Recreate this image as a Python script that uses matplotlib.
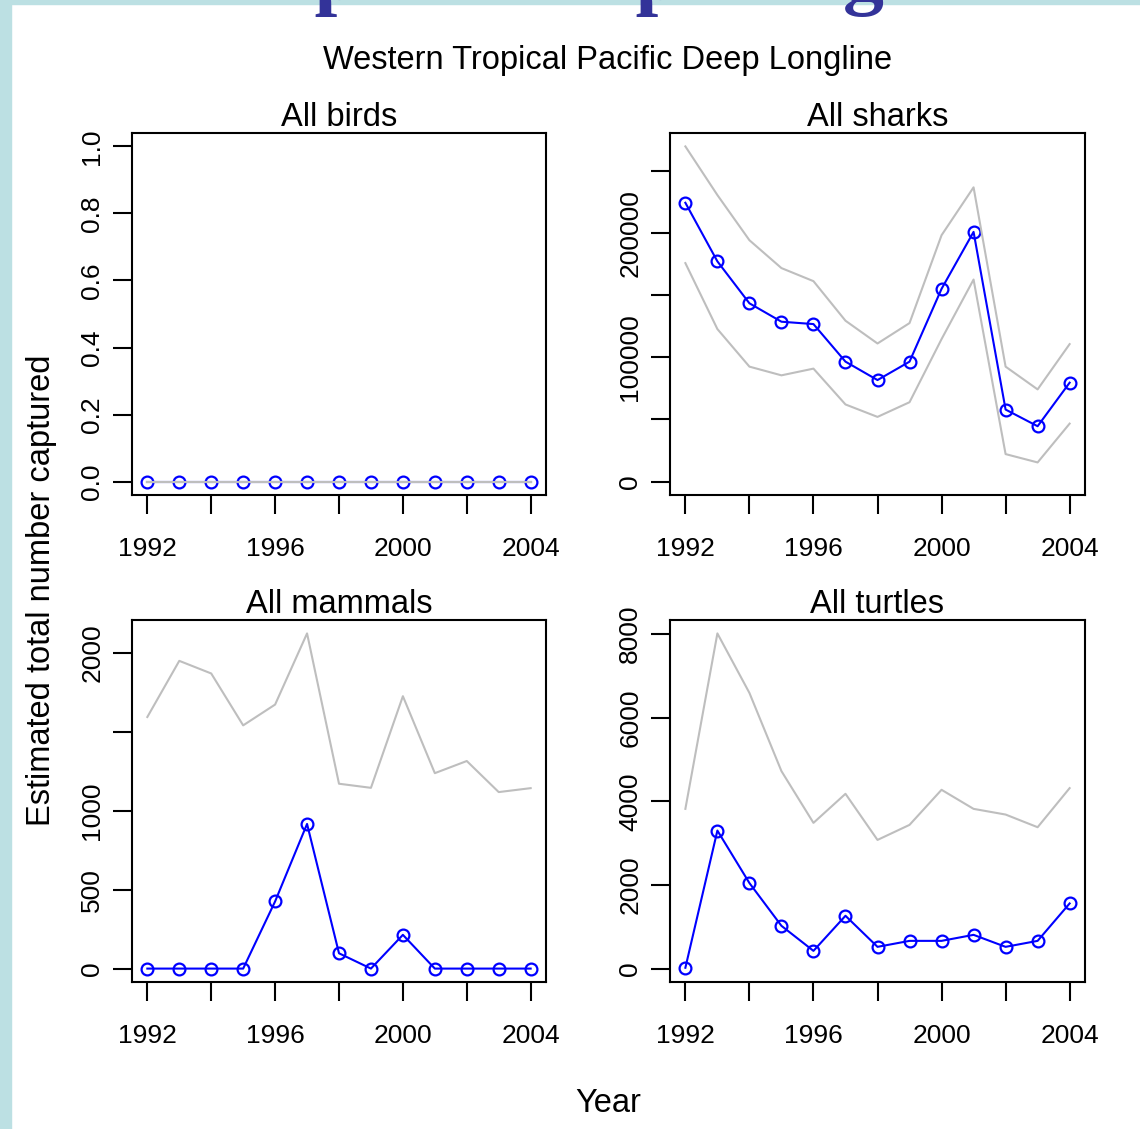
import numpy as np
import matplotlib
matplotlib.use("Agg")
import matplotlib.pyplot as plt
from matplotlib.patches import Rectangle

plt.rcParams['font.family'] = ['Liberation Sans', 'DejaVu Sans']

years = np.arange(1992, 2005)

# estimated catch, upper and lower bounds
birds_est = [0] * 13
birds_upper = [0] * 13
birds_lower = [0] * 13

sharks_est = [224100, 177000, 143300, 128500, 126600, 96400, 81600,
              96400, 154900, 200700, 57900, 44500, 79500]
sharks_upper = [269400, 230300, 194000, 171600, 161100, 129300, 111000,
                127400, 198000, 236500, 92400, 74100, 110500]
sharks_lower = [175600, 122600, 92400, 85400, 90800, 62000, 52000,
                63800, 114500, 162400, 22100, 15400, 46600]

mammals_est = [0, 0, 0, 0, 426, 917, 97, 0, 214, 0, 0, 0, 0]
mammals_upper = [1595, 1951, 1871, 1542, 1674, 2125, 1172, 1146,
                 1727, 1239, 1316, 1119, 1144]

turtles_est = [20, 3301, 2046, 1023, 424, 1263, 520, 663, 663, 807,
               520, 663, 1558]
turtles_upper = [3820, 8016, 6593, 4723, 3485, 4180, 3077, 3437,
                 4276, 3820, 3684, 3381, 4316]

panels = [
    ("All birds", birds_est, [birds_upper, birds_lower],
     [0, 0.2, 0.4, 0.6, 0.8, 1.0], ["0.0", "0.2", "0.4", "0.6", "0.8", "1.0"]),
    ("All sharks", sharks_est, [sharks_upper, sharks_lower],
     [0, 50000, 100000, 150000, 200000, 250000],
     ["0", "", "100000", "", "200000", ""]),
    ("All mammals", mammals_est, [mammals_upper],
     [0, 500, 1000, 1500, 2000], ["0", "500", "1000", "", "2000"]),
    ("All turtles", turtles_est, [turtles_upper],
     [0, 2000, 4000, 6000, 8000], ["0", "2000", "4000", "6000", "8000"]),
]

W, H = 1140, 1129
fig = plt.figure(figsize=(W / 100, H / 100), dpi=100)

# slide decoration: teal border and the cut-off slide title
fig.patches.append(Rectangle((0, 0), 11 / W, 1, transform=fig.transFigure,
                             color='#bce0e3', zorder=0))
fig.patches.append(Rectangle((0, 1 - 4 / H), 1, 4 / H, transform=fig.transFigure,
                             color='#bce0e3', zorder=0))
fig.text(190 / W, 1 + 1 / H, "Tropical Deep Longline", family='Liberation Serif',
         fontweight='bold', fontsize=59, color='#333399', ha='left', va='baseline')

boxes = [(132, 133, 414, 362), (670, 133, 415, 362),
         (132, 620, 414, 362), (670, 620, 415, 362)]

for (title, est, bounds, yt, ytl), (x0, y0, w, h) in zip(panels, boxes):
    ax = fig.add_axes([x0 / W, 1 - (y0 + h) / H, w / W, h / H])
    ax.plot(years, est, color='blue', lw=1.5, marker='o', ms=8.5,
            mfc='none', mec='blue', mew=1.6, zorder=2)
    for b in bounds:
        ax.plot(years, b, color='#bebebe', lw=1.5, zorder=3)
    top = 1.0 if title == "All birds" else max(bounds[0])
    ax.set_ylim(-0.04 * top, 1.04 * top)
    ax.set_xlim(1992 - 0.48, 2004 + 0.48)
    ax.set_xticks(range(1992, 2005, 2))
    ax.set_xticklabels(["1992", "", "1996", "", "2000", "", "2004"])
    ax.set_yticks(yt)
    ax.set_yticklabels(ytl, rotation=90, va='center')
    ax.tick_params(axis='x', length=14, width=1.5, pad=16, labelsize=19)
    ax.tick_params(axis='y', length=14, width=1.5, pad=6, labelsize=19)
    for s in ax.spines.values():
        s.set_linewidth(1.5)
    ax.set_title(title, fontsize=23.5, pad=2)

fig.text(608 / W, 1 - 61 / H, "Western Tropical Pacific Deep Longline",
         fontsize=23.5, ha='center', va='center')
fig.text(42 / W, 1 - 590 / H, "Estimated total number captured",
         fontsize=23.5, rotation=90, ha='center', va='center')
fig.text(608 / W, 1 - 1103 / H, "Year", fontsize=23.5, ha='center', va='center')

fig.savefig("out.png", dpi=100)
